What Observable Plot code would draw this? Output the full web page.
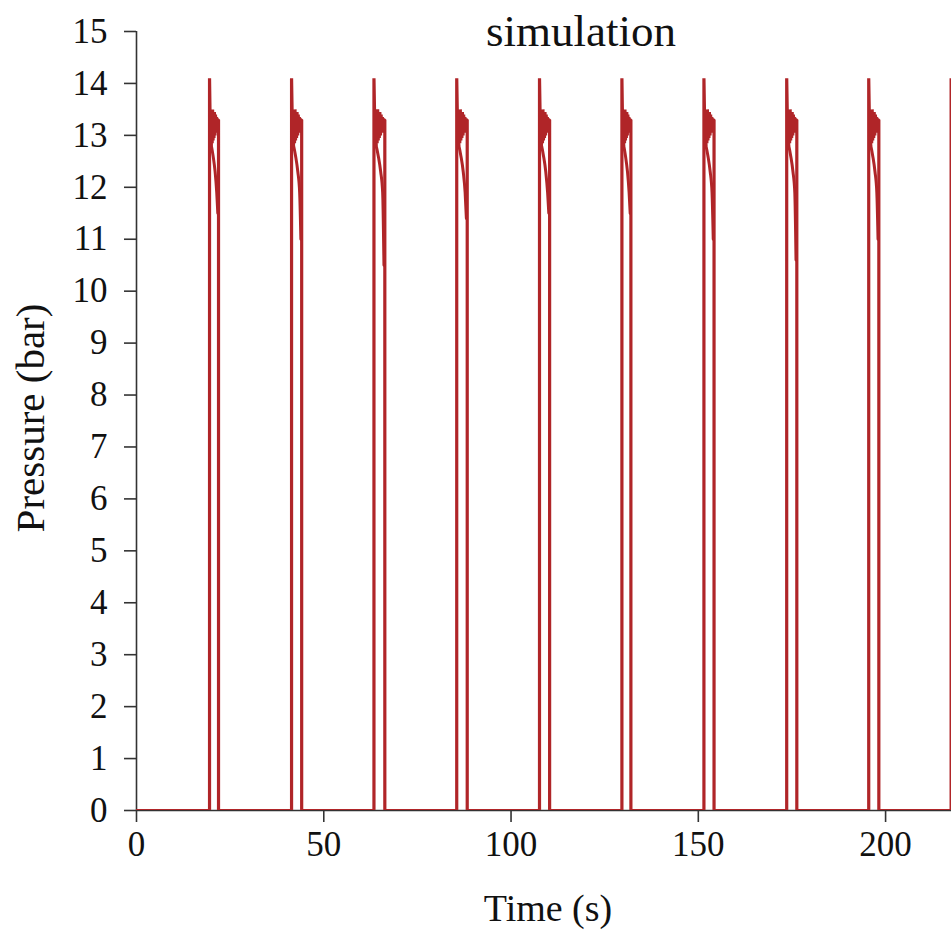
<!DOCTYPE html>
<html>
<head>
<meta charset="utf-8">
<script src="https://cdn.jsdelivr.net/npm/d3@7"></script>
<script src="https://cdn.jsdelivr.net/npm/@observablehq/plot@0.6"></script>
<style>
  html, body { margin: 0; padding: 0; background: #fff; }
</style>
</head>
<body>
<div id="chart"></div>
<script>
// ---- Data ----
const riseTimes = [19.5, 41.4, 63.4, 85.5, 107.6, 129.6, 151.5, 173.6, 195.5, 217.5];
const fallTimes = [21.9, 44.1, 66.3, 88.3, 110.3, 132.0, 154.2, 176.3, 198.2];
const peakValue = 14.1;
// plateau shape of each pulse: fraction of the pulse width, pressure (bar)
const plateauFrac = [0.05, 0.09, 0.14, 0.19, 0.24, 0.29, 0.34, 0.39, 0.44, 0.49, 0.54, 0.60, 0.66, 0.72, 0.78, 0.84, 0.90, 1.00];
const plateauVal  = [13.5, 12.75, 13.5, 12.8, 13.5, 12.85, 13.5, 12.9, 13.45, 12.95, 13.45, 13.0, 13.4, 13.05, 13.35, 13.1, 13.3, 13.3];
// decaying branch of each pulse
const decayFrac = [0.15, 0.40, 0.62, 0.80, 0.92];
const decayVal  = [12.85, 12.6, 12.3, 11.9];
const decayEnd  = [11.5, 11.0, 10.5, 11.4, 11.5, 11.5, 11.0, 10.6, 11.0];
const xTicks = [0, 50, 100, 150, 200];
const yTicks = [0, 1, 2, 3, 4, 5, 6, 7, 8, 9, 10, 11, 12, 13, 14, 15];
const xMax = 217.6;

// ---- Build the series ----
const main = [{t: 0, p: 0}];
const decay = [];
riseTimes.forEach((r, i) => {
  main.push({t: r, p: 0}, {t: r, p: peakValue});
  const f = fallTimes[i];
  if (f === undefined) return;
  const w = f - r;
  plateauFrac.forEach((fr, k) => main.push({t: r + fr * w, p: plateauVal[k]}));
  main.push({t: f, p: 0});
  const vals = [...decayVal, decayEnd[i]];
  decayFrac.forEach((fr, k) => decay.push({t: r + fr * w, p: vals[k], id: i}));
});
main.push({t: xMax, p: 0});

const red = "#b02528";
const chart = Plot.plot({
  width: 951,
  height: 931,
  marginTop: 31,
  marginBottom: 121,
  marginLeft: 136,
  marginRight: 0,
  style: {fontFamily: "'Liberation Serif', 'Times New Roman', serif", color: "#111", background: "#fff"},
  x: {domain: [0, xMax], label: null},
  y: {domain: [0, 15], label: null},
  marks: [
    Plot.ruleY([0], {stroke: "#333", strokeWidth: 1.6}),
    Plot.ruleX([0], {y1: 0, y2: 15, stroke: "#333", strokeWidth: 1.6}),
    Plot.axisX({ticks: xTicks, tickSize: 12, tickPadding: 9, fontSize: 35, stroke: "#333", strokeWidth: 1.6, label: null}),
    Plot.axisY({ticks: yTicks, tickSize: 12, tickPadding: 17, fontSize: 35, stroke: "#333", strokeWidth: 1.6, label: null}),
    Plot.line(decay, {x: "t", y: "p", z: "id", curve: "monotone-x", stroke: red, strokeWidth: 3, clip: true}),
    Plot.line(main, {x: "t", y: "p", stroke: red, strokeWidth: 3.2, strokeLinejoin: "miter", clip: true}),
    Plot.text(["simulation"], {frameAnchor: "top", dx: 37, dy: 0, lineAnchor: "middle", fontSize: 45, fill: "#111"}),
    Plot.text(["Pressure (bar)"], {frameAnchor: "left", textAnchor: "middle", dx: -106, dy: -3, rotate: -90, fontSize: 41, fill: "#111"}),
    Plot.text(["Time (s)"], {frameAnchor: "bottom", dx: 4, dy: 98, lineAnchor: "middle", fontSize: 38, fill: "#111"})
  ]
});
document.getElementById("chart").appendChild(chart);
</script>
</body>
</html>
